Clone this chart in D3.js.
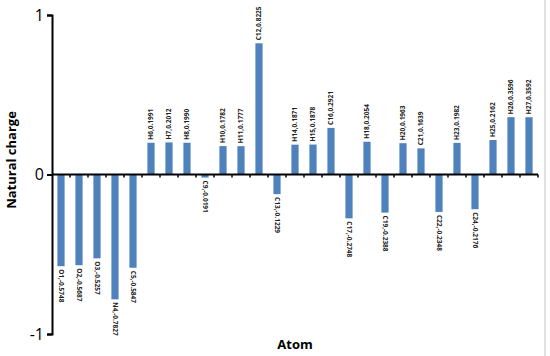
<!DOCTYPE html>
<html>
<head>
<meta charset="utf-8">
<script src="https://cdn.jsdelivr.net/npm/d3@7"></script>
<style>
  body { margin: 0; background: #fff; }
  text { font-family: "Open Sans", "DejaVu Sans", sans-serif; }
</style>
</head>
<body>
<div id="chart"></div>
<script>
const atoms = ['O1','O2','O3','N4','C5','H6','H7','H8','C9','H10','H11','C12','C13','H14',
               'H15','C16','C17','H18','C19','H20','C21','C22','H23','C24','H25','H26','H27'];
const charges = [-0.5748,-0.5687,-0.5257,-0.7827,-0.5847,0.1991,0.2012,0.1990,-0.0191,0.1782,0.1777,
                 0.8225,-0.1229,0.1871,0.1878,0.2921,-0.2748,0.2054,-0.2388,0.1963,0.1639,-0.2348,
                 0.1982,-0.2176,0.2162,0.3596,0.3592];
const yTicks = [-1, 0, 1];

const width = 550, height = 356;
const margin = {top: 15, right: 12, bottom: 22, left: 52};

const svg = d3.select('#chart').append('svg')
    .attr('width', width)
    .attr('height', height);

const x = d3.scaleBand()
    .domain(atoms)
    .range([margin.left, width - margin.right])
    .paddingInner(0.6)
    .paddingOuter(0.3);

const y = d3.scaleLinear()
    .domain([-1, 1])
    .range([height - margin.bottom, margin.top]);

// right edge line of the figure
svg.append('line')
    .attr('x1', 545).attr('x2', 545)
    .attr('y1', 0).attr('y2', height)
    .attr('stroke', '#d9d9d9').attr('stroke-width', 1.5);

// bars
svg.append('g').selectAll('rect')
    .data(atoms)
    .enter()
    .append('rect')
    .attr('x', d => x(d))
    .attr('width', x.bandwidth())
    .attr('y', (d, i) => y(Math.max(0, charges[i])))
    .attr('height', (d, i) => Math.abs(y(charges[i]) - y(0)))
    .attr('fill', '#4f81bd');

// value labels
svg.append('g').selectAll('text')
    .data(atoms)
    .enter()
    .append('text')
    .attr('transform', (d, i) => {
        const cx = x(d) + x.bandwidth() / 2;
        const v = charges[i];
        return v >= 0
            ? `translate(${cx + 2},${y(v) - 3}) rotate(-90)`
            : `translate(${cx - 2},${y(v) + 3}) rotate(90)`;
    })
    .attr('font-size', 6.5)
    .attr('font-weight', 'bold')
    .attr('fill', '#222')
    .text((d, i) => `${d},${charges[i].toFixed(4)}`);

// x axis
const xAxis = svg.append('g')
    .attr('transform', `translate(0,${y(0)})`);
xAxis.append('line')
    .attr('x1', margin.left).attr('x2', width - margin.right)
    .attr('stroke', '#000').attr('stroke-width', 2);
const bounds = d3.range(atoms.length + 1).map(i => x.range()[0] + i * (x.range()[1] - x.range()[0]) / atoms.length);
xAxis.selectAll('line.tick')
    .data(bounds.slice(1))
    .enter()
    .append('line')
    .attr('class', 'tick')
    .attr('x1', d => d).attr('x2', d => d)
    .attr('y1', 0).attr('y2', 3)
    .attr('stroke', '#000').attr('stroke-width', 1.5);

// y axis
const yAxis = d3.axisLeft(y).tickValues(yTicks).tickSize(5).tickFormat(d => d === -1 ? '-1' : d);
svg.append('g')
    .attr('transform', `translate(${margin.left},0)`)
    .call(yAxis)
    .call(g => g.select('.domain').attr('stroke-width', 2))
    .call(g => g.selectAll('.tick line').attr('stroke-width', 2))
    .call(g => g.selectAll('.tick text')
        .attr('font-size', 16)
        .attr('font-family', '"Open Sans", sans-serif')
        .attr('x', -8));

// axis titles
svg.append('text')
    .attr('transform', `translate(16,160) rotate(-90)`)
    .attr('text-anchor', 'middle')
    .attr('font-size', 13)
    .attr('font-weight', 'bold')
    .text('Natural charge');

svg.append('text')
    .attr('x', 295)
    .attr('y', 349)
    .attr('text-anchor', 'middle')
    .attr('font-size', 13)
    .attr('font-weight', 'bold')
    .text('Atom');
</script>
</body>
</html>
